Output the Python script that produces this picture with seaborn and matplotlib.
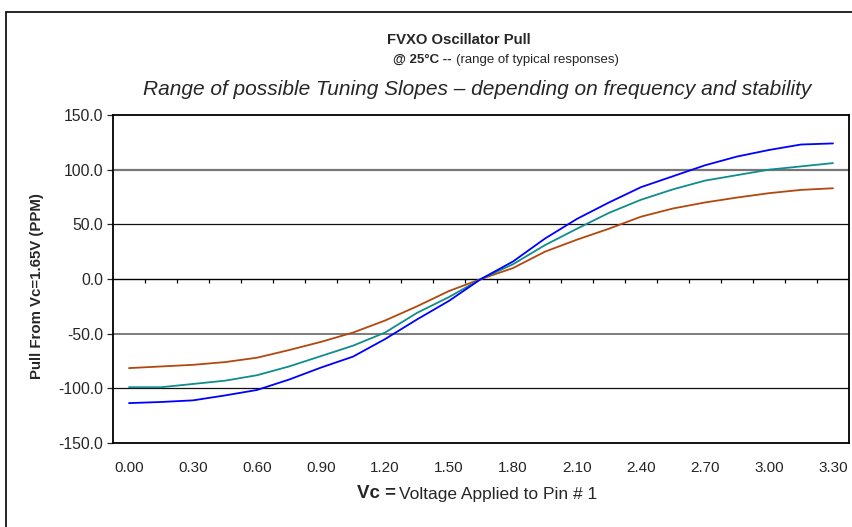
import numpy as np
import pandas as pd
import matplotlib
matplotlib.use("Agg")
import matplotlib.pyplot as plt
import matplotlib.patches as patches
import seaborn as sns

# Vc steps of 0.15 V from 0.00 to 3.30
voltage = [0.00, 0.15, 0.30, 0.45, 0.60, 0.75, 0.90, 1.05, 1.20, 1.35, 1.50, 1.65,
           1.80, 1.95, 2.10, 2.25, 2.40, 2.55, 2.70, 2.85, 3.00, 3.15, 3.30]
pull_high = [-113.5, -112.5, -111, -106.5, -101.5, -92, -81, -71, -55, -37, -20, 0,
             16, 37, 55, 70, 84, 94, 104, 112, 118, 123, 124]
pull_mid = [-99, -99, -96, -93, -88, -80, -70.5, -61, -49, -31, -16.5, 0,
            13.5, 31, 46, 60.5, 72.5, 82, 90, 95, 100, 103, 106]
pull_low = [-81.5, -80, -78.5, -76, -72, -65, -57.5, -49, -38, -25, -11, 0,
            10, 25, 36, 46, 57, 64.5, 70, 74.5, 78.5, 81.5, 83]
xtick_labels = ["0.00", "0.30", "0.60", "0.90", "1.20", "1.50", "1.80",
                "2.10", "2.40", "2.70", "3.00", "3.30"]
yticks = [-150, -100, -50, 0, 50, 100, 150]

df = pd.DataFrame({"Vc": voltage, "high": pull_high, "mid": pull_mid, "low": pull_low})
long_df = df.melt(id_vars="Vc", var_name="curve", value_name="pull")

sns.set_style("white")
plt.rcParams["font.family"] = ["Liberation Sans", "DejaVu Sans"]

W, H = 853, 527
fig = plt.figure(figsize=(W / 100, H / 100), dpi=100)


def fx(px):
    return px / W


def fy(py):
    return 1 - py / H


# plot area in pixels: left 113, right 849, top 115, bottom 443
ax = fig.add_axes([fx(113), fy(443), fx(849) - fx(113), fy(115) - fy(443)])

palette = {"high": "#0000FF", "mid": "#108C8C", "low": "#B3470E"}
sns.lineplot(data=long_df, x="Vc", y="pull", hue="curve", palette=palette,
             hue_order=["low", "mid", "high"], linewidth=1.3, legend=False, ax=ax)

step = voltage[1] - voltage[0]
ax.set_xlim(voltage[0] - step / 2, voltage[-1] + step / 2)
ax.set_ylim(-150, 150)

# gridlines (rendered a bit unevenly in the original)
ax.axhline(100, color="#777777", lw=1.6, zorder=0)
ax.axhline(50, color="#111111", lw=0.9, zorder=0)
ax.axhline(-50, color="#666666", lw=1.2, zorder=0)
ax.axhline(-100, color="#111111", lw=0.9, zorder=0)
ax.axhline(0, color="black", lw=1.0, zorder=1)

# category tick marks on the zero line
bounds = np.arange(len(voltage) + 1) * step + voltage[0] - step / 2
ax.vlines(bounds[1:-1], -3.8, 0, color="black", lw=0.9)

ax.set_xticks(voltage[::2])
ax.set_xticklabels(xtick_labels, fontsize=11)
ax.tick_params(axis="x", length=0, pad=13)
ax.set_yticks(yticks)
ax.set_yticklabels([f"{v:.1f}" for v in yticks], fontsize=11.3)
ax.tick_params(axis="y", length=4, width=0.9, direction="out", left=True, pad=3)
ax.set_xlabel("")
ax.set_ylabel("")
for s in ax.spines.values():
    s.set_color("black")
    s.set_linewidth(1.3)
    s.set_visible(True)

# titles
fig.text(fx(459), fy(40), "FVXO Oscillator Pull", ha="center", va="center",
         fontsize=10.7, fontweight="bold")
fig.text(fx(452), fy(60), "@ 25°C --", ha="right", va="center",
         fontsize=9.5, fontweight="bold")
fig.text(fx(456), fy(60), "(range of typical responses)", ha="left", va="center",
         fontsize=9.5)
fig.text(fx(477), fy(89), "Range of possible Tuning Slopes \u2013 depending on frequency and stability",
         ha="center", va="center", fontsize=15, style="italic")

# axis titles
fig.text(fx(37), fy(286), "Pull From Vc=1.65V (PPM)", ha="center", va="center",
         rotation=90, fontsize=10.8, fontweight="bold")
fig.text(fx(396), fy(494), "Vc =", ha="right", va="center", fontsize=13.5,
         fontweight="bold")
fig.text(fx(399), fy(494), "Voltage Applied to Pin # 1", ha="left", va="center",
         fontsize=12.5)

# chart area border
fig.patches.append(patches.Rectangle((fx(6), -0.1), 2, fy(12) + 0.1,
                                     transform=fig.transFigure, fill=False,
                                     edgecolor="black", lw=1.2))

fig.savefig("out.png", dpi=100)
